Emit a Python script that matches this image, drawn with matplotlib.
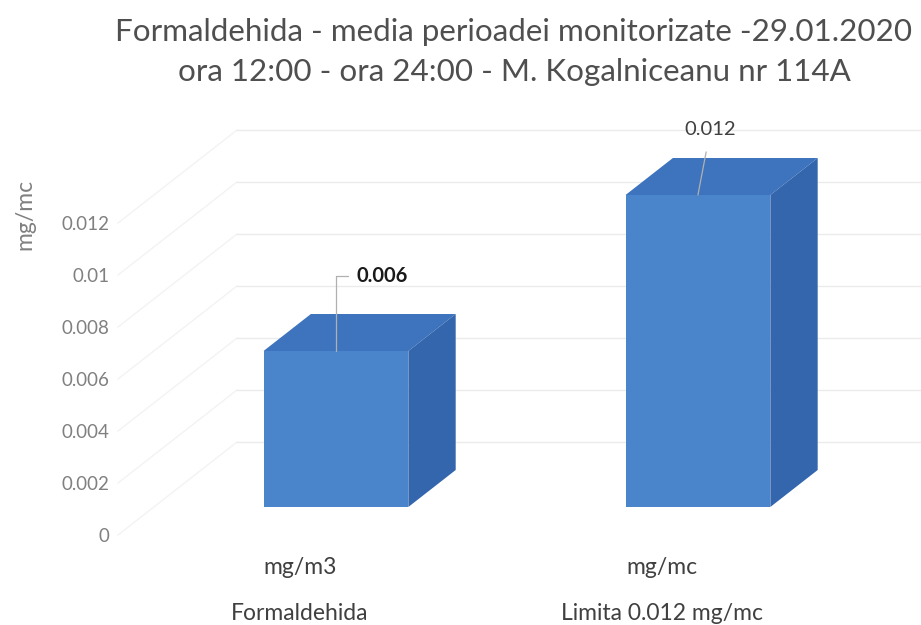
#!/usr/bin/env python3

import numpy as np
import matplotlib
matplotlib.use("Agg")
import matplotlib.pyplot as plt
from matplotlib import transforms

#-------------------------------------------------------------
# chart data
categories = ["Formaldehida", "Limita 0.012 mg/mc"]
units = ["mg/m3", "mg/mc"]
values = [0.006, 0.012]
value_labels = ["0.006", "0.012"]
yticks = [0, 0.002, 0.004, 0.006, 0.008, 0.01, 0.012]
ytick_labels = ["0", "0.002", "0.004", "0.006", "0.008", "0.01", "0.012"]
title = ("Formaldehida - media perioadei monitorizate -29.01.2020\n"
         "ora 12:00 - ora 24:00 - M. Kogalniceanu nr 114A")

#-------------------------------------------------------------
W, H = 921, 625
FONT = ["Lato", "DejaVu Sans"]
FRONT = "#4a85cc"
TOP = "#3d74bd"
SIDE = "#3466ad"
GRID = "#ebebeb"
TEXT = "#4f4f4f"

# fake 3d: depth measured in pixels, projected up and to the right
SLANT = 1.28
D_FRONT = 28
D_BACK = 65
D_WALL = 93
BAR_W = 0.4

fig = plt.figure(figsize=(W / 100, H / 100), dpi=100)
ax = fig.add_axes([118 / W, 90 / H, (W - 118) / W, 435 / H])
xmin = -0.503
xspan = (W - 118) / 362
ax.set_xlim(xmin, xmin + xspan)
ax.set_ylim(0, 435 / 26000)

px_x = (W - 118) / xspan
px_y = 435 / (435 / 26000)


def proj(x, y, d):
    """ move a point of the front plane d pixels back in depth """
    return x + d * SLANT / px_x, y + d / px_y


# side wall and back wall gridlines
xl = ax.get_xlim()
for v in yticks:
    p0 = proj(xl[0], v, 0)
    p1 = proj(xl[0], v, D_WALL)
    p2 = proj(xl[1], v, D_WALL)
    ax.plot([p0[0], p1[0]], [p0[1], p1[1]], color="#f3f3f3", lw=1.0,
            clip_on=False, zorder=1)
    ax.plot([p1[0], p2[0]], [p1[1], p2[1]], color=GRID, lw=1.0,
            clip_on=False, zorder=1)

# bars
xs = np.arange(len(values))
fx, fy = proj(xs, np.zeros(len(xs)), D_FRONT)
ax.bar(fx, values, bottom=fy, width=BAR_W, color=FRONT, zorder=4,
       clip_on=False)
for x, v in zip(xs, values):
    l, r = x - BAR_W / 2, x + BAR_W / 2
    top = [proj(l, v, D_FRONT), proj(r, v, D_FRONT),
           proj(r, v, D_BACK), proj(l, v, D_BACK)]
    side = [proj(r, 0, D_FRONT), proj(r, v, D_FRONT),
            proj(r, v, D_BACK), proj(r, 0, D_BACK)]
    ax.fill(*zip(*top), color=TOP, zorder=3, clip_on=False, lw=0)
    ax.fill(*zip(*side), color=SIDE, zorder=3, clip_on=False, lw=0)

# data labels with leader lines
offsets = [(33, 54), (9, 47)]
styles = ["angle,angleA=0,angleB=90,rad=0", "arc3"]
shrinks = [4, 8]
weights = ["bold", "normal"]
colors = ["#1a1a1a", "#404040"]
for i, (x, v) in enumerate(zip(xs, values)):
    ax.annotate(value_labels[i], xy=proj(x, v, D_FRONT),
                xytext=offsets[i], textcoords="offset points",
                ha="center", va="center", fontsize=14.5, family=FONT,
                fontweight=weights[i], color=colors[i], zorder=6,
                annotation_clip=False,
                arrowprops=dict(arrowstyle="-", color="#b0b0b0", lw=0.9,
                                connectionstyle=styles[i],
                                shrinkA=shrinks[i], shrinkB=0))

# axes decoration
for s in ax.spines.values():
    s.set_visible(False)
ax.set_yticks(yticks)
ax.set_yticklabels(ytick_labels, family=FONT, fontsize=13.5, color="#808080")
ax.set_xticks(xs)
ax.set_xticklabels(units, family=FONT, fontsize=16.5, color="#404040")
ax.tick_params(length=0)
ax.tick_params(axis="y", pad=6)
ax.tick_params(axis="x", pad=16)
trans = transforms.blended_transform_factory(ax.transData, ax.transAxes)
for x, c in zip(xs, categories):
    ax.text(x, -78 / 435, c, transform=trans, ha="center", va="center",
            family=FONT, fontsize=16.5, color="#404040")

fig.text(25 / W, 1 - 214 / H, "mg/mc", rotation=90, ha="center",
         va="center", family=FONT, fontsize=16.5, color="#808080")
fig.text(514 / W, 1 - 52 / H, title, ha="center", va="center",
         family=FONT, fontsize=22.6, color=TEXT, linespacing=1.5)

fig.savefig("out.png", dpi=100)
